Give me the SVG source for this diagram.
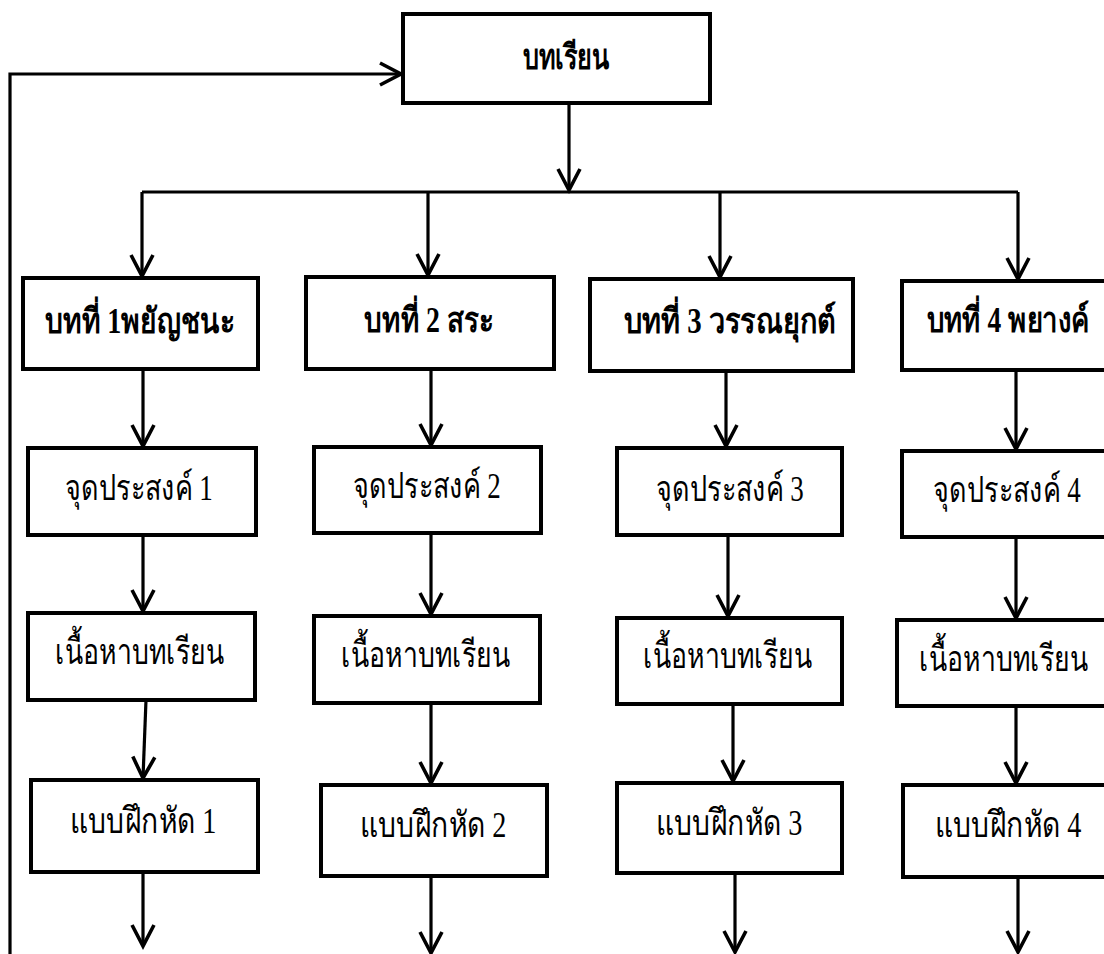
<svg xmlns="http://www.w3.org/2000/svg" width="1104" height="954" viewBox="0 0 1104 954">
  <style>
    .box { fill: #fff; stroke: #000; stroke-width: 4; }
    .lbl { font-family: "Liberation Serif", "DejaVu Serif", serif; font-size: 36px; fill: #000; text-anchor: middle; }
    .hd { font-weight: bold; font-size: 35px; }
    .conn path { fill: none; stroke: #000; stroke-width: 3.2; marker-end: url(#chev); }
  </style>
  <defs>
    <marker id="chev" markerUnits="userSpaceOnUse" markerWidth="30" markerHeight="30" refX="0" refY="0" orient="auto" overflow="visible">
      <path d="M-21,-11 L0,0 L-21,11" fill="none" stroke="#000" stroke-width="3.6"/>
    </marker>
  </defs>
  <rect width="1104" height="954" fill="#fff"/>

  <!-- connectors -->
  <g id="connectors" class="conn">
    <path d="M10,954 V74 H401"/>
    <path d="M569,103 V190"/>
    <path d="M142,192 H1018" style="marker-end:none"/>
    <path d="M142,192 V276"/>
    <path d="M428,192 V275"/>
    <path d="M720,192 V277"/>
    <path d="M1018,192 V279"/>
    <path d="M143,369 V446"/>
    <path d="M431,369 V445"/>
    <path d="M726,371 V446"/>
    <path d="M1016,370 V449"/>
    <path d="M143,535 V611"/>
    <path d="M431,533 V614"/>
    <path d="M728,535 V616"/>
    <path d="M1016,537 V618"/>
    <path d="M146,700 L143,778"/>
    <path d="M431,705 V783"/>
    <path d="M733,704 V781"/>
    <path d="M1016,706 V783"/>
    <path d="M143,872 V946"/>
    <path d="M431,878 V953"/>
    <path d="M735,875 V952"/>
    <path d="M1018,877 V952"/>
  </g>

  <!-- top node -->
  <g id="lesson">
    <rect class="box" x="403" y="14" width="307" height="89"/>
    <text class="lbl hd" transform="translate(566 69) scale(0.72 1)">บทเรียน</text>
  </g>

  <!-- unit headers -->
  <g id="unit1">
    <rect class="box" x="23" y="278" width="235" height="91"/>
    <text class="lbl hd" transform="translate(140 333) scale(0.805 1)">บทที่ 1พยัญชนะ</text>
  </g>
  <g id="unit2">
    <rect class="box" x="306" y="277" width="248" height="92"/>
    <text class="lbl hd" transform="translate(429 332) scale(0.795 1)">บทที่ 2 สระ</text>
  </g>
  <g id="unit3">
    <rect class="box" x="590" y="279" width="263" height="92"/>
    <text class="lbl hd" transform="translate(730 333) scale(0.826 1)">บทที่ 3 วรรณยุกต์</text>
  </g>
  <g id="unit4">
    <rect class="box" x="902" y="281" width="210" height="89"/>
    <text class="lbl hd" transform="translate(1008 332) scale(0.785 1)">บทที่ 4 พยางค์</text>
  </g>

  <!-- objectives -->
  <g id="obj1">
    <rect class="box" x="28" y="448" width="228" height="87"/>
    <text class="lbl" transform="translate(139 500) scale(0.75 1)">จุดประสงค์ 1</text>
  </g>
  <g id="obj2">
    <rect class="box" x="314" y="447" width="227" height="86"/>
    <text class="lbl" transform="translate(427 498) scale(0.75 1)">จุดประสงค์ 2</text>
  </g>
  <g id="obj3">
    <rect class="box" x="617" y="448" width="225" height="87"/>
    <text class="lbl" transform="translate(730 501) scale(0.75 1)">จุดประสงค์ 3</text>
  </g>
  <g id="obj4">
    <rect class="box" x="902" y="451" width="210" height="86"/>
    <text class="lbl" transform="translate(1007 502) scale(0.75 1)">จุดประสงค์ 4</text>
  </g>

  <!-- lesson content -->
  <g id="content1">
    <rect class="box" x="28" y="613" width="227" height="87"/>
    <text class="lbl" transform="translate(140 664) scale(0.74 1)">เนื้อหาบทเรียน</text>
  </g>
  <g id="content2">
    <rect class="box" x="314" y="616" width="226" height="87"/>
    <text class="lbl" transform="translate(426 667) scale(0.74 1)">เนื้อหาบทเรียน</text>
  </g>
  <g id="content3">
    <rect class="box" x="617" y="618" width="225" height="86"/>
    <text class="lbl" transform="translate(728 668) scale(0.74 1)">เนื้อหาบทเรียน</text>
  </g>
  <g id="content4">
    <rect class="box" x="897" y="620" width="215" height="86"/>
    <text class="lbl" transform="translate(1004 671) scale(0.74 1)">เนื้อหาบทเรียน</text>
  </g>

  <!-- exercises -->
  <g id="ex1">
    <rect class="box" x="31" y="780" width="227" height="92"/>
    <text class="lbl" transform="translate(143 833) scale(0.785 1)">แบบฝึกหัด 1</text>
  </g>
  <g id="ex2">
    <rect class="box" x="321" y="785" width="226" height="91"/>
    <text class="lbl" transform="translate(433 837) scale(0.785 1)">แบบฝึกหัด 2</text>
  </g>
  <g id="ex3">
    <rect class="box" x="617" y="783" width="225" height="90"/>
    <text class="lbl" transform="translate(729 835) scale(0.785 1)">แบบฝึกหัด 3</text>
  </g>
  <g id="ex4">
    <rect class="box" x="903" y="785" width="209" height="92"/>
    <text class="lbl" transform="translate(1008 837) scale(0.785 1)">แบบฝึกหัด 4</text>
  </g>
</svg>
